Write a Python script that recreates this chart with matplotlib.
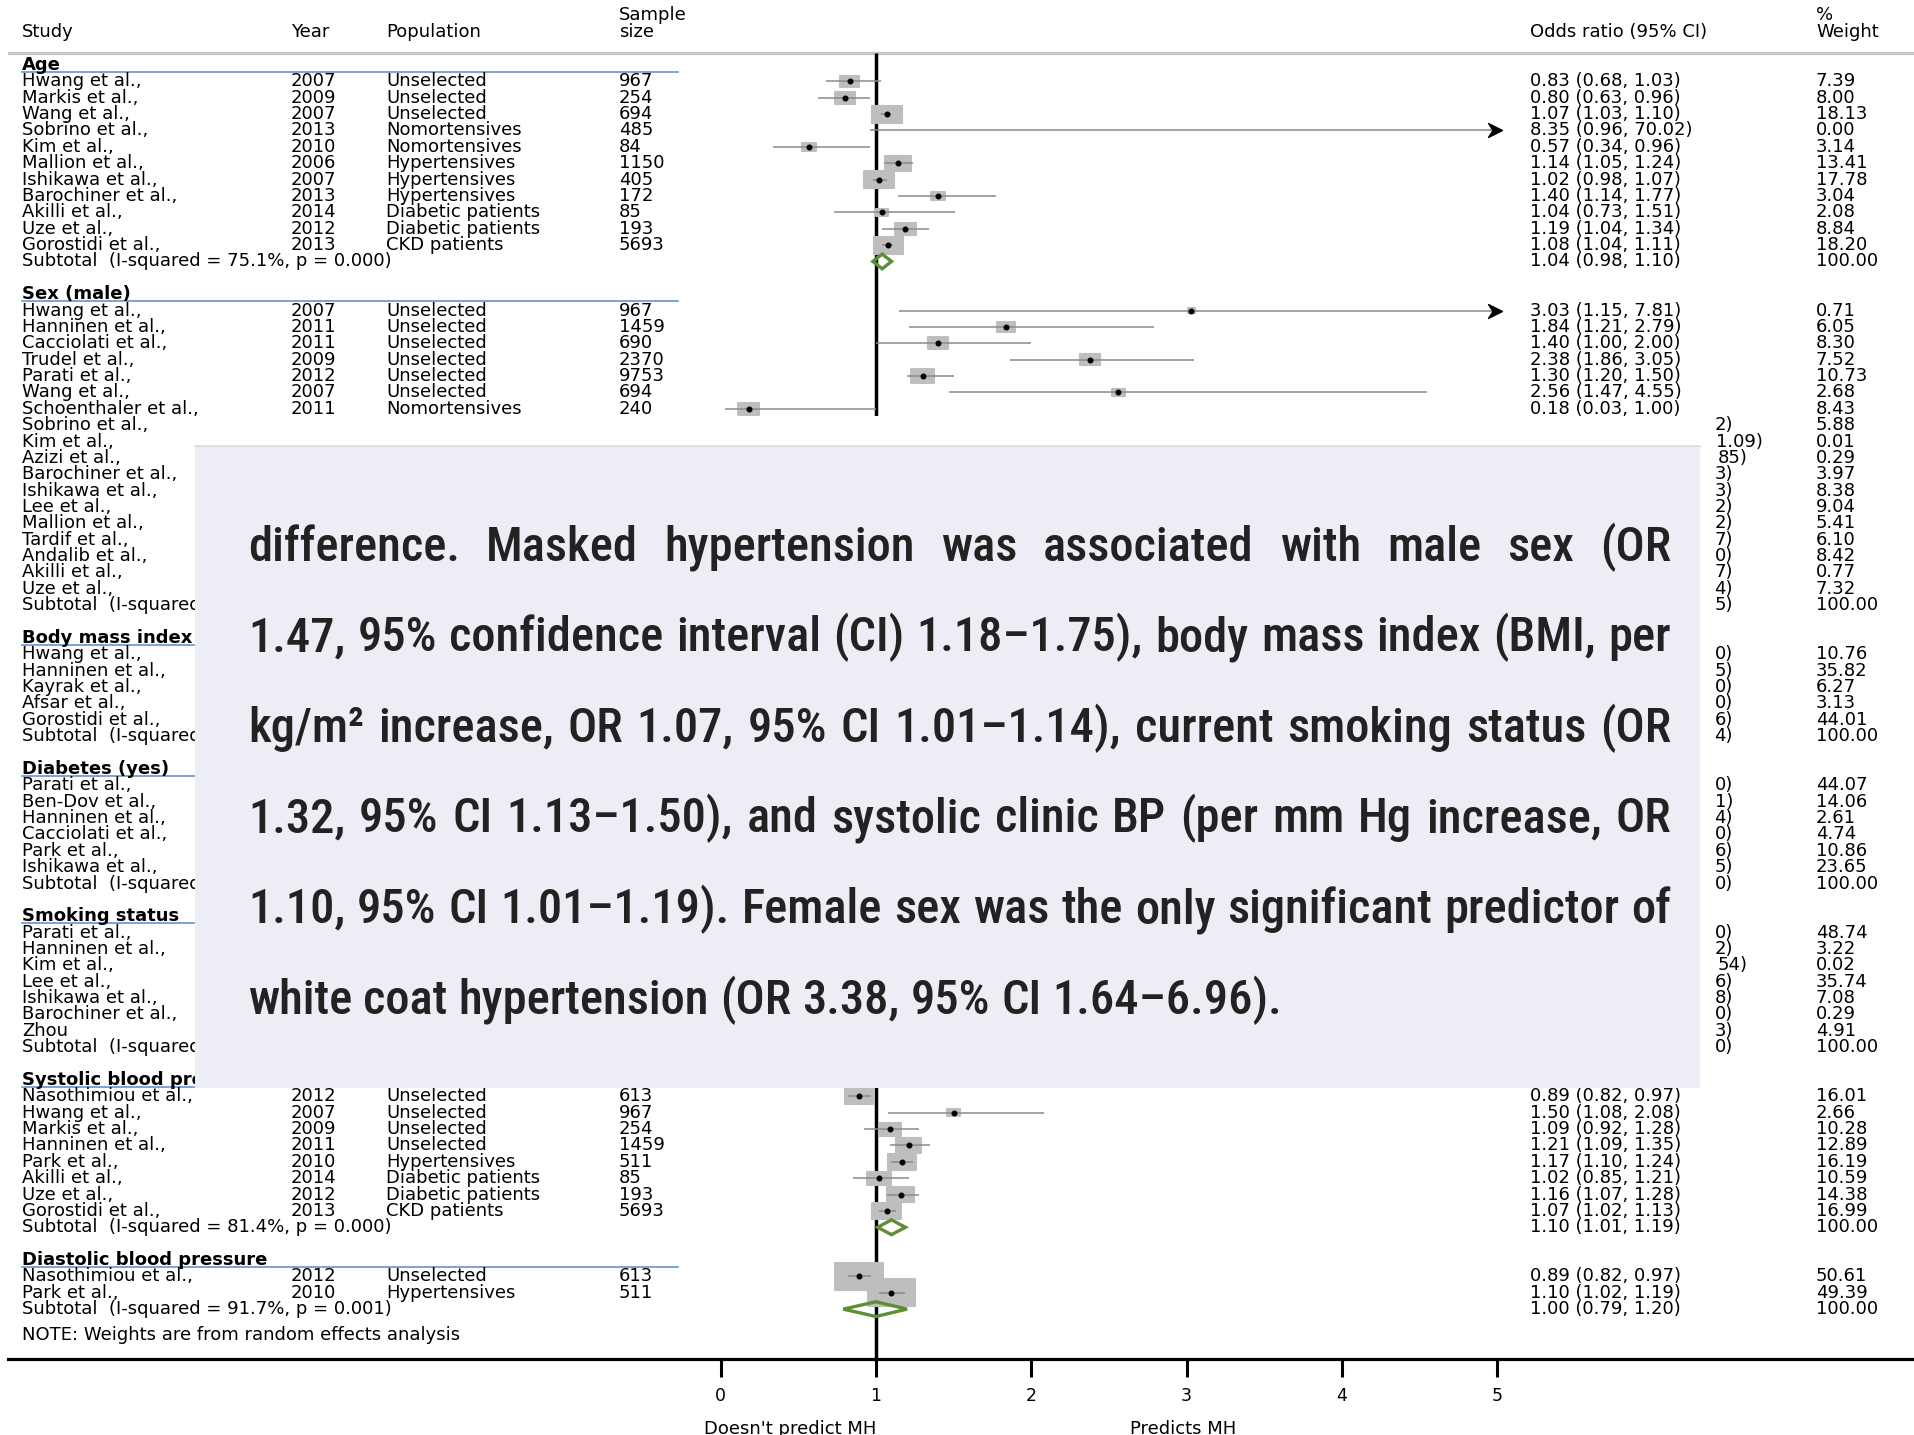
import matplotlib
matplotlib.use("Agg")
import matplotlib.pyplot as plt
from matplotlib import transforms
from matplotlib.patches import Rectangle, Polygon
from matplotlib.path import Path
from matplotlib.font_manager import FontProperties
from matplotlib.lines import Line2D

# ------------------------------------------------------------------ data
age_study = ["Hwang et al.,", "Markis et al.,", "Wang et al.,", "Sobrino et al.,",
             "Kim et al.,", "Mallion et al.,", "Ishikawa et al.,", "Barochiner et al.,",
             "Akilli et al.,", "Uze et al.,", "Gorostidi et al.,"]
age_year = [2007, 2009, 2007, 2013, 2010, 2006, 2007, 2013, 2014, 2012, 2013]
age_pop = ["Unselected", "Unselected", "Unselected", "Nomortensives", "Nomortensives",
           "Hypertensives", "Hypertensives", "Hypertensives", "Diabetic patients",
           "Diabetic patients", "CKD patients"]
age_n = [967, 254, 694, 485, 84, 1150, 405, 172, 85, 193, 5693]
age_or = [0.83, 0.80, 1.07, 8.35, 0.57, 1.14, 1.02, 1.40, 1.04, 1.19, 1.08]
age_lo = [0.68, 0.63, 1.03, 0.96, 0.34, 1.05, 0.98, 1.14, 0.73, 1.04, 1.04]
age_hi = [1.03, 0.96, 1.10, 70.02, 0.96, 1.24, 1.07, 1.77, 1.51, 1.34, 1.11]
age_wt = [7.39, 8.00, 18.13, 0.00, 3.14, 13.41, 17.78, 3.04, 2.08, 8.84, 18.20]
age_sub = (1.04, 0.98, 1.10)
age_het = ("75.1%", "0.000")

sex_study = ["Hwang et al.,", "Hanninen et al.,", "Cacciolati et al.,", "Trudel et al.,",
             "Parati et al.,", "Wang et al.,", "Schoenthaler et al.,", "Sobrino et al.,",
             "Kim et al.,", "Azizi et al.,", "Barochiner et al.,", "Ishikawa et al.,",
             "Lee et al.,", "Mallion et al.,", "Tardif et al.,", "Andalib et al.,",
             "Akilli et al.,", "Uze et al.,"]
sex_year = [2007, 2011, 2011, 2009, 2012, 2007, 2011]
sex_pop = ["Unselected"] * 6 + ["Nomortensives"]
sex_n = [967, 1459, 690, 2370, 9753, 694, 240]
sex_or = [3.03, 1.84, 1.40, 2.38, 1.30, 2.56, 0.18]
sex_lo = [1.15, 1.21, 1.00, 1.86, 1.20, 1.47, 0.03]
sex_hi = [7.81, 2.79, 2.00, 3.05, 1.50, 4.55, 1.00]
sex_tail = ["2)", "1.09)", "85)", "3)", "3)", "2)", "2)", "7)", "0)", "7)", "4)"]
sex_wt = [0.71, 6.05, 8.30, 7.52, 10.73, 2.68, 8.43, 5.88, 0.01, 0.29, 3.97, 8.38,
          9.04, 5.41, 6.10, 8.42, 0.77, 7.32]
sex_sub_tail = "5)"

bmi_study = ["Hwang et al.,", "Hanninen et al.,", "Kayrak et al.,", "Afsar et al.,",
             "Gorostidi et al.,"]
bmi_tail = ["0)", "5)", "0)", "0)", "6)"]
bmi_wt = [10.76, 35.82, 6.27, 3.13, 44.01]
bmi_sub_tail = "4)"

dm_study = ["Parati et al.,", "Ben-Dov et al.,", "Hanninen et al.,", "Cacciolati et al.,",
            "Park et al.,", "Ishikawa et al.,"]
dm_tail = ["0)", "1)", "4)", "0)", "6)", "5)"]
dm_wt = [44.07, 14.06, 2.61, 4.74, 10.86, 23.65]
dm_sub_tail = "0)"

smk_study = ["Parati et al.,", "Hanninen et al.,", "Kim et al.,", "Lee et al.,",
             "Ishikawa et al.,", "Barochiner et al.,", "Zhou"]
smk_tail = ["0)", "2)", "54)", "6)", "8)", "0)", "3)"]
smk_wt = [48.74, 3.22, 0.02, 35.74, 7.08, 0.29, 4.91]
smk_sub_tail = "0)"

sbp_study = ["Nasothimiou et al.,", "Hwang et al.,", "Markis et al.,", "Hanninen et al.,",
             "Park et al.,", "Akilli et al.,", "Uze et al.,", "Gorostidi et al.,"]
sbp_year = [2012, 2007, 2009, 2011, 2010, 2014, 2012, 2013]
sbp_pop = ["Unselected", "Unselected", "Unselected", "Unselected", "Hypertensives",
           "Diabetic patients", "Diabetic patients", "CKD patients"]
sbp_n = [613, 967, 254, 1459, 511, 85, 193, 5693]
sbp_or = [0.89, 1.50, 1.09, 1.21, 1.17, 1.02, 1.16, 1.07]
sbp_lo = [0.82, 1.08, 0.92, 1.09, 1.10, 0.85, 1.07, 1.02]
sbp_hi = [0.97, 2.08, 1.28, 1.35, 1.24, 1.21, 1.28, 1.13]
sbp_wt = [16.01, 2.66, 10.28, 12.89, 16.19, 10.59, 14.38, 16.99]
sbp_sub = (1.10, 1.01, 1.19)
sbp_het = ("81.4%", "0.000")

dbp_study = ["Nasothimiou et al.,", "Park et al.,"]
dbp_year = [2012, 2010]
dbp_pop = ["Unselected", "Hypertensives"]
dbp_n = [613, 511]
dbp_or = [0.89, 1.10]
dbp_lo = [0.82, 1.02]
dbp_hi = [0.97, 1.19]
dbp_wt = [50.61, 49.39]
dbp_sub = (1.00, 0.79, 1.20)
dbp_het = ("91.7%", "0.001")

x_ticks = [0, 1, 2, 3, 4, 5]
note_text = "NOTE: Weights are from random effects analysis"
left_label, right_label = "Doesn't predict MH", "Predicts MH"

groups = [
    dict(name="Age", study=age_study, year=age_year, pop=age_pop, n=age_n,
         est=age_or, lo=age_lo, hi=age_hi, tail=[], wt=age_wt, sub=age_sub, het=age_het),
    dict(name="Sex (male)", study=sex_study, year=sex_year, pop=sex_pop, n=sex_n,
         est=sex_or, lo=sex_lo, hi=sex_hi, tail=sex_tail, wt=sex_wt, sub_tail=sex_sub_tail),
    dict(name="Body mass index", study=bmi_study, tail=bmi_tail, wt=bmi_wt,
         sub_tail=bmi_sub_tail),
    dict(name="Diabetes (yes)", study=dm_study, tail=dm_tail, wt=dm_wt, sub_tail=dm_sub_tail),
    dict(name="Smoking status", study=smk_study, tail=smk_tail, wt=smk_wt,
         sub_tail=smk_sub_tail),
    dict(name="Systolic blood pressure", study=sbp_study, year=sbp_year, pop=sbp_pop,
         n=sbp_n, est=sbp_or, lo=sbp_lo, hi=sbp_hi, tail=[], wt=sbp_wt, sub=sbp_sub,
         het=sbp_het),
    dict(name="Diastolic blood pressure", study=dbp_study, year=dbp_year, pop=dbp_pop,
         n=dbp_n, est=dbp_or, lo=dbp_lo, hi=dbp_hi, tail=[], wt=dbp_wt, sub=dbp_sub,
         het=dbp_het),
]

box_lines = [
    "difference. Masked hypertension was associated with male sex (OR",
    "1.47, 95% confidence interval (CI) 1.18\u20131.75), body mass index (BMI, per",
    "kg/m\u00b2 increase, OR 1.07, 95% CI 1.01\u20131.14), current smoking status (OR",
    "1.32, 95% CI 1.13\u20131.50), and systolic clinic BP (per mm Hg increase, OR",
    "1.10, 95% CI 1.01\u20131.19). Female sex was the only significant predictor of",
    "white coat hypertension (OR 3.38, 95% CI 1.64\u20136.96).",
]

# ------------------------------------------------------------------ layout
W, H, DPI = 1915, 1435, 100
Y0_PX, ROW_PX = 65.0, 16.37          # first row centre and row pitch
AX_LEFT_PX, AX_BOT_PX = 8, 1359      # axis line position
X0_PX, UNIT_PX = 720.6, 155.35       # pixel of OR = 0 and pixels per unit
COL_STUDY, COL_YEAR, COL_POP, COL_N = 22, 291, 386, 619
COL_OR, COL_WT = 1530, 1816
XMAX = 5.0
TXT = 13

plt.rcParams["font.family"] = ["DejaVu Sans"]
plt.rcParams["text.color"] = "black"

fig = plt.figure(figsize=(W / DPI, H / DPI), dpi=DPI)
fig.patch.set_facecolor("white")
ax = fig.add_axes([AX_LEFT_PX / W, 1 - AX_BOT_PX / H, 1 - AX_LEFT_PX / W, AX_BOT_PX / H])
ax.set_xlim((AX_LEFT_PX - X0_PX) / UNIT_PX, (W - X0_PX) / UNIT_PX)
ax.set_ylim((AX_BOT_PX - Y0_PX) / ROW_PX, (0 - Y0_PX) / ROW_PX)
ax.set_facecolor("none")
for s in ("left", "right", "top"):
    ax.spines[s].set_visible(False)
ax.spines["bottom"].set_linewidth(2.3)
ax.set_yticks([])
ax.set_xticks(x_ticks)
ax.set_xticklabels([str(t) for t in x_ticks])
ax.tick_params(axis="x", direction="out", length=13, width=2.2, labelsize=12.5, pad=7)

tx = transforms.blended_transform_factory(fig.transFigure, ax.transData)


def col(px):
    return px / W


def put(px, row, s, **kw):
    kw.setdefault("fontsize", TXT)
    ax.text(col(px), row, s, transform=tx, va="center", ha=kw.pop("ha", "left"), **kw)


def tail_end(t):
    return 1733 + 15 * (sum(c.isdigit() for c in t) - 1)


BOX_C, CI_C, DIA_C = "#BEBEBE", "#8A8A8A", "#5E8E35"
arrow = Path([(-1, -1), (1, 0), (-1, 1), (-0.35, 0), (-1, -1)],
             [Path.MOVETO, Path.LINETO, Path.LINETO, Path.LINETO, Path.CLOSEPOLY])

# column headings
hdr_row = (32 - Y0_PX) / ROW_PX
top_row = (15 - Y0_PX) / ROW_PX
put(COL_STUDY, hdr_row, "Study")
put(COL_YEAR, hdr_row, "Year")
put(COL_POP, hdr_row, "Population")
put(COL_N, top_row, "Sample")
put(COL_N, hdr_row, "size")
put(COL_OR, hdr_row, "Odds ratio (95% CI)")
put(COL_WT, top_row, "%")
put(COL_WT, hdr_row, "Weight")
line_row = (53 - Y0_PX) / ROW_PX
ax.axhline(line_row, color="#C8C8C8", lw=2.4, zorder=1)

# reference line at OR = 1
ax.plot([1, 1], [line_row, ax.get_ylim()[0]], color="black", lw=2.5, zorder=1.5,
        solid_capstyle="butt")

row = 0
for g in groups:
    put(COL_STUDY, row, g["name"], fontweight="bold")
    ax.plot([col(COL_STUDY), col(678)], [row + 0.42, row + 0.42], transform=tx,
            color="#5A8AC6", lw=1.1, zorder=1)
    row += 1
    est = g.get("est", [])
    for i, name in enumerate(g["study"]):
        put(COL_STUDY, row, name)
        w = g["wt"][i]
        put(COL_WT, row, f"{w:.2f}")
        if i < len(est):
            e, lo, hi = est[i], g["lo"][i], g["hi"][i]
            put(COL_YEAR, row, str(g["year"][i]))
            put(COL_POP, row, g["pop"][i])
            put(COL_N, row, str(g["n"][i]))
            put(COL_OR, row, f"{e:.2f} ({lo:.2f}, {hi:.2f})")
            if e <= XMAX and w > 0:
                wpx = 6.5 * w ** 0.5 + 2.0
                hpx = wpx * 0.57
                wd, hd = wpx / UNIT_PX, hpx / ROW_PX
                ax.add_patch(Rectangle((e - wd / 2, row - hd / 2), wd, hd, fc=BOX_C,
                                       ec=BOX_C, lw=1.5, joinstyle="round", zorder=3))
            ax.plot([lo, min(hi, XMAX)], [row, row], color=CI_C, lw=1.1, zorder=4,
                    solid_capstyle="butt")
            if hi > XMAX:
                ax.plot([XMAX - 0.015], [row], marker=arrow, ms=10, color="black",
                        mec="black", zorder=5)
            if e <= XMAX:
                ax.plot([e], [row], "o", ms=3.3, color="black", zorder=5)
        else:
            t = g["tail"][i - len(est)]
            ax.text(col(tail_end(t)), row, t, transform=tx, va="center", ha="right",
                    fontsize=TXT)
        row += 1
    # subtotal
    if "sub" in g:
        e, lo, hi = g["sub"]
        isq, p = g["het"]
        put(COL_STUDY, row, f"Subtotal  (I-squared = {isq}, p = {p})")
        put(COL_OR, row, f"{e:.2f} ({lo:.2f}, {hi:.2f})")
        ax.add_patch(Polygon([(lo, row), (e, row - 0.45), (hi, row), (e, row + 0.45)],
                             closed=True, fill=False, ec=DIA_C, lw=2.4,
                             joinstyle="miter", zorder=4))
    else:
        put(COL_STUDY, row, "Subtotal  (I-squared =")
        t = g["sub_tail"]
        ax.text(col(tail_end(t)), row, t, transform=tx, va="center", ha="right",
                fontsize=TXT)
    put(COL_WT, row, "100.00")
    row += 2

put(COL_STUDY, 77.6, note_text)

bt = transforms.blended_transform_factory(ax.transData, fig.transFigure)
ax.text((790 - X0_PX) / UNIT_PX, 1 - 1420 / H, left_label, transform=bt, ha="center",
        va="top", fontsize=13)
ax.text((1183 - X0_PX) / UNIT_PX, 1 - 1420 / H, right_label, transform=bt, ha="center",
        va="top", fontsize=13)

# ------------------------------------------------------------------ text panel
PX_L, PX_R, PX_T, PX_B = 195, 1700, 446, 1088
BAND_T = 416
fig.add_artist(Rectangle((PX_L / W, 1 - PX_T / H), (PX_R - PX_L) / W,
                         (PX_T - BAND_T) / H, transform=fig.transFigure,
                         facecolor="white", edgecolor="none", zorder=3))
fig.add_artist(Rectangle((PX_L / W, 1 - PX_B / H), (PX_R - PX_L) / W,
                         (PX_B - PX_T) / H, transform=fig.transFigure,
                         facecolor="#ECEDF5", edgecolor="none", zorder=4))
fig.add_artist(Line2D([PX_L / W, PX_R / W], [1 - PX_T / H] * 2,
                      transform=fig.transFigure, color="#DADAE0", lw=1.2, zorder=4.5))

PANEL_FONT = ["Liberation Sans Narrow", "Roboto Condensed", "Open Sans"]
TX_L, TX_R = 248, 1671
BASE0, BASE_STEP = 560.6, 90.6

renderer = fig.canvas.get_renderer()


def wpx(s, fp):
    return renderer.get_text_width_height_descent(s, fp, ismath=False)[0]


probe = FontProperties(family=PANEL_FONT, size=40, weight=500)
sp = wpx("n n", probe) - wpx("nn", probe)
ratios = []
for ln in box_lines[:-1]:
    words = ln.split(" ")
    nat = sum(wpx(wd, probe) for wd in words) + sp * (len(words) - 1)
    ratios.append((TX_R - TX_L) / nat)
size = min(40 * min(ratios) * 0.995, 44)
fp = FontProperties(family=PANEL_FONT, size=size, weight=500)
sp = wpx("n n", fp) - wpx("nn", fp)

for k, ln in enumerate(box_lines):
    ybase = 1 - (BASE0 + k * BASE_STEP) / H
    words = ln.split(" ")
    widths = [wpx(wd, fp) for wd in words]
    if k < len(box_lines) - 1:
        gap = (TX_R - TX_L - sum(widths)) / (len(words) - 1)
    else:
        gap = sp
    x = TX_L
    for wd, ww in zip(words, widths):
        fig.text(x / W, ybase, wd, fontproperties=fp, color="#222222", ha="left",
                 va="baseline", zorder=5)
        x += ww + gap

fig.savefig("out.png", dpi=DPI, facecolor="white")
